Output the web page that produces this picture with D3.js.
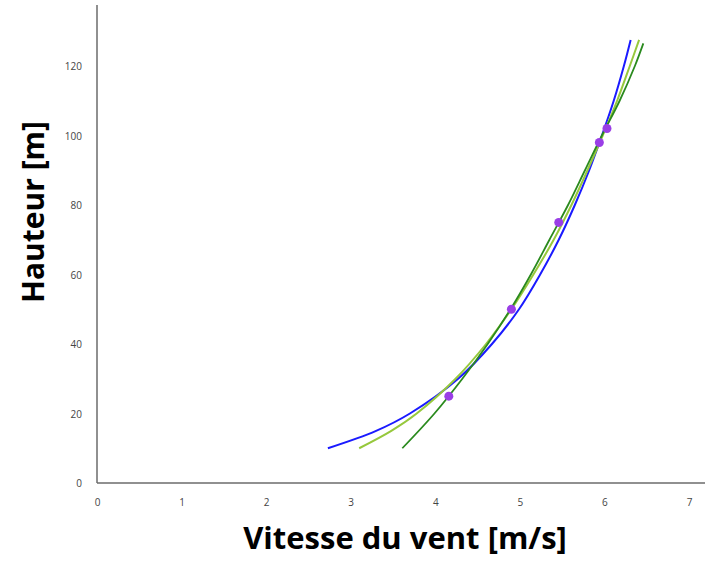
<!DOCTYPE html>
<html>
<head>
<meta charset="utf-8">
<script src="https://cdn.jsdelivr.net/npm/d3@7"></script>
<style>
  body { margin: 0; background: #fff; }
  svg { display: block; }
  .tick text { font-family: "Open Sans", sans-serif; font-size: 10px; fill: #444; }
  .title { font-family: "Open Sans", sans-serif; font-weight: bold; fill: #000; }
</style>
</head>
<body>
<div id="chart"></div>
<script>
// Wind profile chart - speed vs height

// Axis ticks
const xTicks = [0, 1, 2, 3, 4, 5, 6, 7];
const yTicks = [0, 20, 40, 60, 80, 100, 120];

// Measured points [speed m/s, height m]
const measuredSpeed = [4.16, 4.90, 5.46, 5.94, 6.03];
const measuredHeight = [25, 50, 75, 98, 102];

// Fitted curves (height -> speed)
const curveHeights = [10, 15, 20, 30, 40, 50, 60, 70, 80, 90, 100, 110, 120, 127.5];
const blueSpeed = [2.73, 3.30, 3.70, 4.27, 4.67, 4.99, 5.24, 5.46, 5.65, 5.82, 5.97, 6.11, 6.23, 6.31];
const lightGreenSpeed = [3.10, 3.48, 3.78, 4.24, 4.60, 4.90, 5.16, 5.40, 5.61, 5.80, 5.98, 6.15, 6.30, 6.41];

const darkHeights = [10, 20, 30, 40, 50, 60, 70, 80, 90, 100, 110, 120, 126.5];
const darkGreenSpeed = [3.61, 3.99, 4.32, 4.62, 4.89, 5.13, 5.35, 5.57, 5.77, 5.97, 6.18, 6.36, 6.46];

const width = 705;
const height = 564;

const svg = d3.select('#chart')
    .append('svg')
    .attr('width', width)
    .attr('height', height);

const x = d3.scaleLinear().domain([0, 7]).range([97, 689]);
const y = d3.scaleLinear().domain([0, 120]).range([483, 66]);

// Axis lines
svg.append('line')
    .attr('x1', x(0)).attr('x2', 705)
    .attr('y1', y(0)).attr('y2', y(0))
    .attr('stroke', '#6b6b6b').attr('stroke-width', 1.5);

svg.append('line')
    .attr('x1', x(0)).attr('x2', x(0))
    .attr('y1', y(0)).attr('y2', 5)
    .attr('stroke', '#6b6b6b').attr('stroke-width', 1.5);

// Tick labels through d3 axes (no tick marks)
const xAxis = svg.append('g')
    .attr('transform', `translate(0,${y(0) + 13})`)
    .call(d3.axisBottom(x).tickValues(xTicks).tickSize(0).tickFormat(d3.format('d')));
xAxis.select('.domain').remove();

const yAxis = svg.append('g')
    .attr('transform', `translate(${x(0) - 12},0)`)
    .call(d3.axisLeft(y).tickValues(yTicks).tickSize(0).tickFormat(d3.format('d')));
yAxis.select('.domain').remove();
yAxis.selectAll('text').attr('dy', '0.35em');

// Curves
const line = (speeds, hs) => d3.line()
    .x((d, i) => x(speeds[i]))
    .y((d, i) => y(hs[i]))
    .curve(d3.curveCatmullRom)(hs);

svg.append('path')
    .attr('d', line(blueSpeed, curveHeights))
    .attr('fill', 'none')
    .attr('stroke', '#1a1aff')
    .attr('stroke-width', 2);

svg.append('path')
    .attr('d', line(lightGreenSpeed, curveHeights))
    .attr('fill', 'none')
    .attr('stroke', '#96c83c')
    .attr('stroke-width', 2);

svg.append('path')
    .attr('d', line(darkGreenSpeed, darkHeights))
    .attr('fill', 'none')
    .attr('stroke', '#2a8a1e')
    .attr('stroke-width', 1.8);

// Measured points
svg.selectAll('circle.pt')
    .data(measuredSpeed)
    .enter()
    .append('circle')
    .attr('class', 'pt')
    .attr('cx', d => x(d))
    .attr('cy', (d, i) => y(measuredHeight[i]))
    .attr('r', 4.5)
    .attr('fill', '#9a3ee6');

// Axis titles
svg.append('text')
    .attr('class', 'title')
    .attr('x', 405)
    .attr('y', 549)
    .attr('text-anchor', 'middle')
    .attr('font-size', 31)
    .text('Vitesse du vent [m/s]');

svg.append('text')
    .attr('class', 'title')
    .attr('transform', 'translate(44,212) rotate(-90)')
    .attr('text-anchor', 'middle')
    .attr('font-size', 30)
    .text('Hauteur [m]');
</script>
</body>
</html>
